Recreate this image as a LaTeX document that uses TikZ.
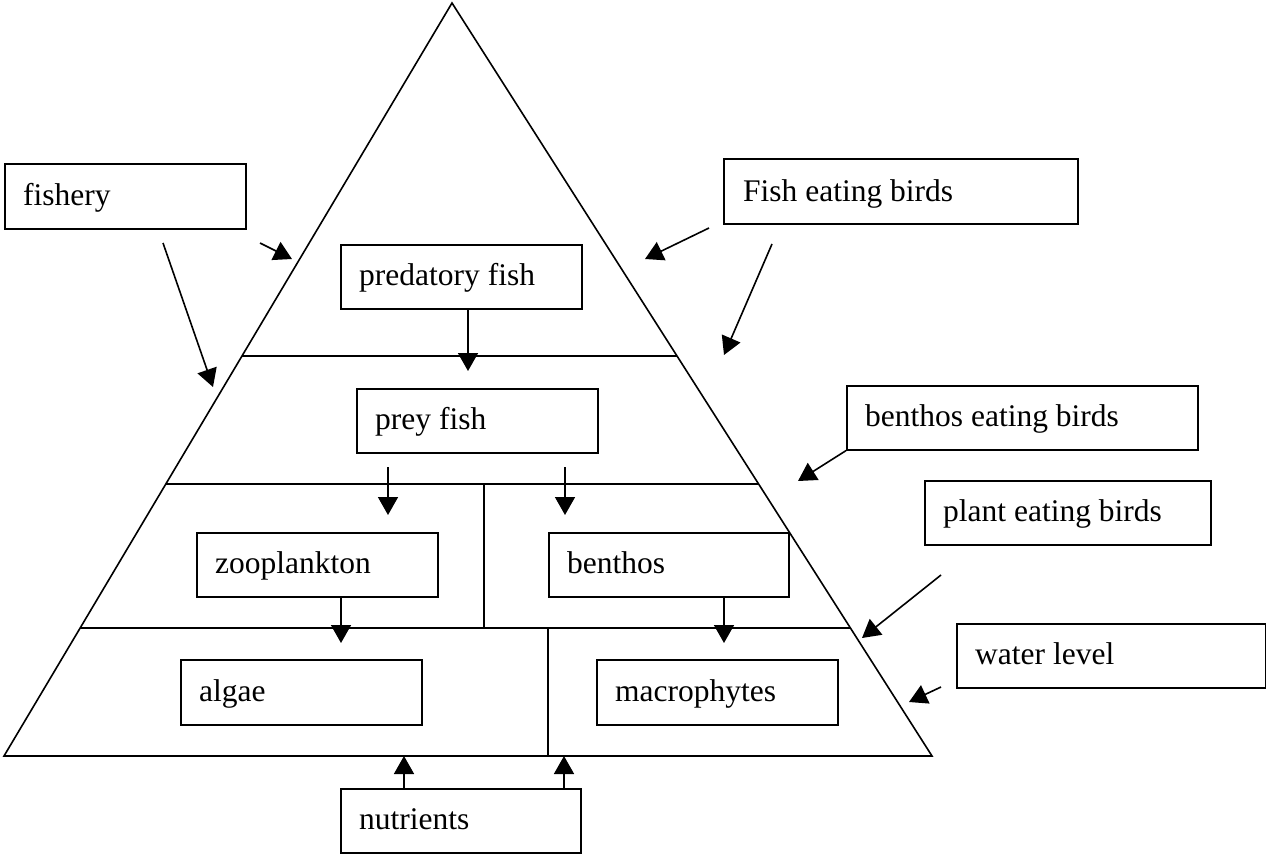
\documentclass[tikz,border=0pt]{standalone}
\usepackage{fontspec}
\setmainfont{Liberation Serif}
\usetikzlibrary{calc,arrows.meta}
\begin{document}
\begin{tikzpicture}[x=1pt,y=-1pt,
  box/.style={draw, line width=1.6pt, inner sep=0pt, anchor=north west},
  lbl/.style={anchor=base west, inner sep=0pt, font=\fontsize{31.5}{36}\selectfont},
  edge/.style={line width=1.6pt},
  arr/.style={line width=1.6pt, -{Triangle[length=18pt,width=20pt]}}]
\useasboundingbox (0,0) rectangle (1266,854);
% pyramid
\coordinate (A) at (452,3);
\coordinate (L) at (4,756);
\coordinate (R) at (932,756);
\draw[edge, line join=miter] (A) -- (L) -- (R) -- cycle;
\draw[edge] ($(A)!0.4688!(L)$) -- ($(A)!0.4688!(R)$);
\draw[edge] ($(A)!0.6388!(L)$) -- ($(A)!0.6388!(R)$);
\draw[edge] ($(A)!0.8300!(L)$) -- ($(A)!0.8300!(R)$);
\draw[edge] (484,484) -- (484,628);
\draw[edge] (548,628) -- (548,756);
% boxes
\node[box, minimum width=241, minimum height=65] (fishery) at (4,163) {};
\node[lbl] (tfishery) at ([shift={(19,42)}]fishery.north west) {fishery};
\node[box, minimum width=354, minimum height=65] (feb) at (723,158) {};
\node[lbl] (tfeb) at ([shift={(20,43)}]feb.north west) {Fish eating birds};
\node[box, minimum width=241, minimum height=64] (pred) at (340,244) {};
\node[lbl] (tpred) at ([shift={(19,41)}]pred.north west) {predatory fish};
\node[box, minimum width=241, minimum height=64] (prey) at (356,388) {};
\node[lbl] (tprey) at ([shift={(19,41)}]prey.north west) {prey fish};
\node[box, minimum width=241, minimum height=64] (zoo) at (196,532) {};
\node[lbl] (tzoo) at ([shift={(19,41)}]zoo.north west) {zooplankton};
\node[box, minimum width=240, minimum height=64] (ben) at (548,532) {};
\node[lbl] (tben) at ([shift={(19,41)}]ben.north west) {benthos};
\node[box, minimum width=241, minimum height=65] (algae) at (180,659) {};
\node[lbl] (talgae) at ([shift={(19,42)}]algae.north west) {algae};
\node[box, minimum width=241, minimum height=65] (macro) at (596,659) {};
\node[lbl] (tmacro) at ([shift={(19,42)}]macro.north west) {macrophytes};
\node[box, minimum width=351, minimum height=64] (beb) at (846,385) {};
\node[lbl] (tbeb) at ([shift={(19,41)}]beb.north west) {benthos eating birds};
\node[box, minimum width=286, minimum height=64] (peb) at (924,480) {};
\node[lbl] (tpeb) at ([shift={(19,41)}]peb.north west) {plant eating birds};
\node[box, minimum width=309, minimum height=64] (wl) at (956,623) {};
\node[lbl] (twl) at ([shift={(19,41)}]wl.north west) {water level};
\node[box, minimum width=240, minimum height=64] (nut) at (340,788) {};
\node[lbl] (tnut) at ([shift={(19,41)}]nut.north west) {nutrients};
% arrow tips and free ends
\coordinate (f1s) at (163,243); \coordinate (f1e) at (213,387);
\coordinate (f2s) at (260,243); \coordinate (f2e) at (292,259);
\coordinate (b1s) at (709,228); \coordinate (b1e) at (645,259);
\coordinate (b2s) at (772,244); \coordinate (b2e) at (724,355);
\coordinate (bebe) at (798,481);
\coordinate (pebs) at (941,575); \coordinate (pebe) at (862,638);
\coordinate (wls) at (941,687); \coordinate (wle) at (909,702);
\coordinate (p1e) at (468,371);
\coordinate (y1s) at (388,467); \coordinate (y1e) at (388,515);
\coordinate (y2s) at (565,467); \coordinate (y2e) at (565,515);
\coordinate (z1e) at (341,643);
\coordinate (be1e) at (724,643);
\coordinate (n1e) at (404,756);
\coordinate (n2e) at (564,756);
% arrows
\draw[arr] (f1s) -- (f1e);
\draw[arr] (f2s) -- (f2e);
\draw[arr] (b1s) -- (b1e);
\draw[arr] (b2s) -- (b2e);
\draw[arr] (beb.south west) -- (bebe);
\draw[arr] (pebs) -- (pebe);
\draw[arr] (wls) -- (wle);
\draw[arr] (pred.south -| p1e) -- (p1e);
\draw[arr] (y1s) -- (y1e);
\draw[arr] (y2s) -- (y2e);
\draw[arr] (zoo.south -| z1e) -- (z1e);
\draw[arr] (ben.south -| be1e) -- (be1e);
\draw[arr] (nut.north -| n1e) -- (n1e);
\draw[arr] (nut.north -| n2e) -- (n2e);
\end{tikzpicture}
\end{document}
